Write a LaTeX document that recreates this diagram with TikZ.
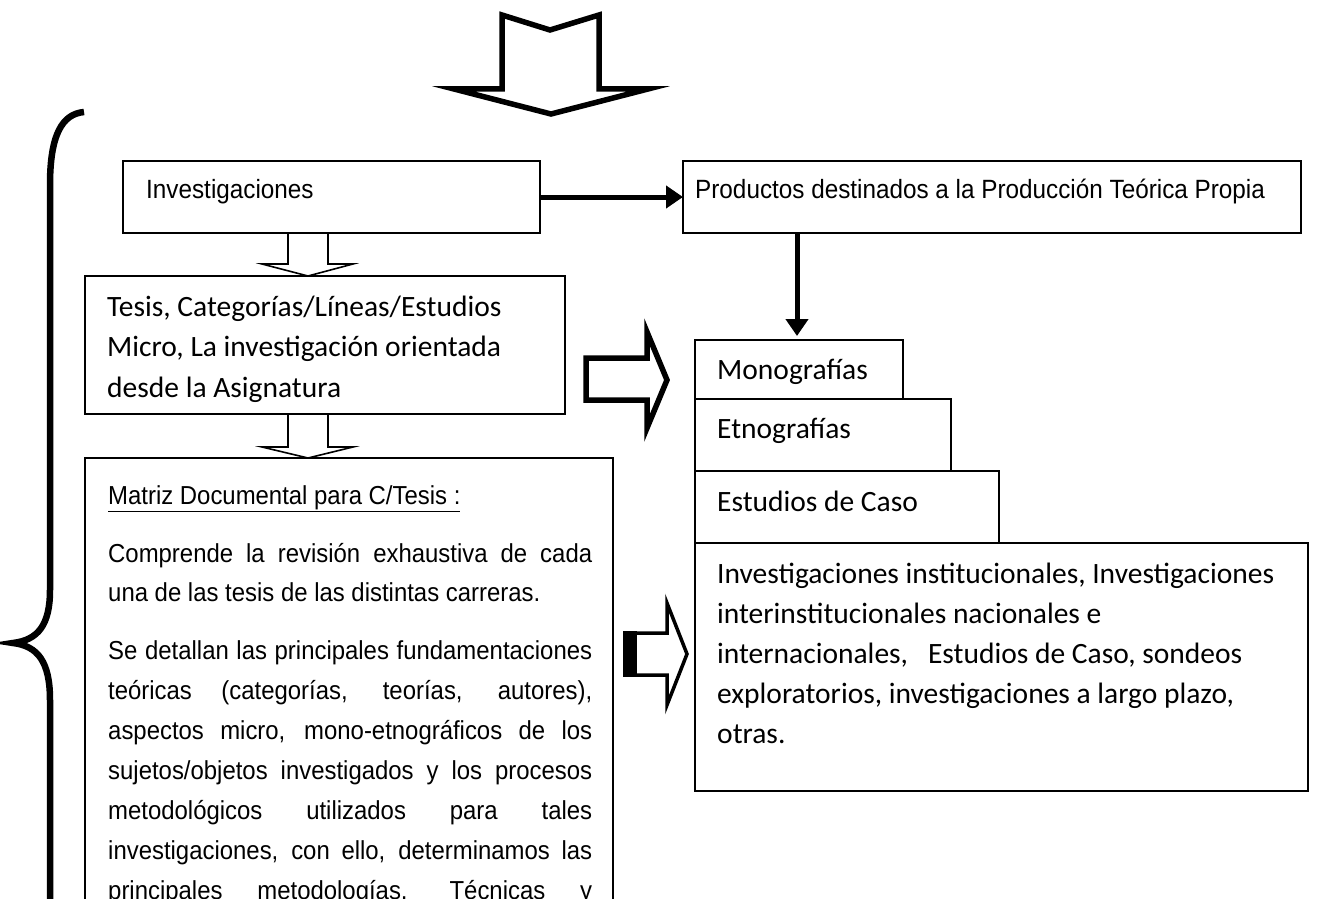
\documentclass[tikz,border=0pt]{standalone}
\usepackage{fontspec}
\newfontfamily\arialf[FakeStretch=0.92]{Liberation Sans}
\newfontfamily\calf{Carlito}
\usetikzlibrary{arrows.meta}
\begin{document}
\begin{tikzpicture}[x=1pt,y=-1pt,
  box/.style={draw, line width=1.8pt, inner sep=0pt, outer sep=0pt, anchor=north west},
  arialtxt/.style={anchor=base west, inner sep=0pt, font=\arialf\fontsize{26.4pt}{39pt}\selectfont},
  mattxt/.style={anchor=base west, inner sep=0pt, font=\arialf\fontsize{26pt}{39pt}\selectfont},
  caltxt/.style={anchor=base west, inner sep=0pt, align=left, font=\calf\fontsize{29.5pt}{40.5pt}\selectfont},
  thickarrow/.style={line width=5pt, -{Triangle[length=17pt,width=22pt]}},
  hollow/.style={draw, line width=1.6pt, line join=miter},
  bigarrow/.style={draw, line width=5.5pt, line join=miter},
]
\useasboundingbox (0,0) rectangle (1326,899);

% top big hollow arrow
\draw[bigarrow] (502,15) -- (550,30) -- (599,15) -- (599,89) -- (648,89) -- (551,114) -- (454,89) -- (502,89) -- cycle;

% brace
\draw[line width=6.5pt] (84,112) .. controls (62,114) and (50,135) .. (50,185) -- (50,590)
   .. controls (50,625) and (38,640) .. (13,643) .. controls (38,646) and (50,662) .. (50,700) -- (50,920);

% boxes
\node[box, minimum width=417pt, minimum height=72pt] (inv) at (123,161) {};
\node[arialtxt] (invt) at (146,198) {Investigaciones};

\node[box, minimum width=618pt, minimum height=72pt] (prod) at (683,161) {};
\node[arialtxt] (prodt) at (695,198) {Productos destinados a la Producción Teórica Propia};

\node[box, minimum width=480pt, minimum height=138pt] (tesis) at (85,276) {};
\node[caltxt] (tesist) at (107,397) {Tesis, Categorías/Líneas/Estudios\\Micro, La investigación orientada\\desde la Asignatura};

\node[box, minimum width=528pt, minimum height=480pt] (matriz) at (85,458) {};

\node[box, minimum width=208pt, minimum height=59pt] (mono) at (695,340) {};
\node[caltxt] (monot) at (717,379) {Monografías};
\node[box, minimum width=256pt, minimum height=72pt] (etno) at (695,399) {};
\node[caltxt] (etnot) at (717,438) {Etnografías};
\node[box, minimum width=304pt, minimum height=72pt] (caso) at (695,471) {};
\node[caltxt] (casot) at (717,511) {Estudios de Caso};
\node[box, minimum width=613pt, minimum height=248pt] (inst) at (695,543) {};
\node[caltxt, font=\calf\fontsize{29.5pt}{40pt}\selectfont] (instt) at (717,743) {Investigaciones institucionales, Investigaciones\\interinstitucionales nacionales e\\internacionales,\ \ \ Estudios de Caso, sondeos\\exploratorios, investigaciones a largo plazo,\\otras.};

% matrix text
\node[mattxt] (m1) at (108,504) {\underline{Matriz Documental para C/Tesis :}};
\node[mattxt] (m2) at (108,562) {\makebox[484pt][s]{Comprende la revisión exhaustiva de cada}};
\node[mattxt] (m3) at (108,601) {una de las tesis de las distintas carreras.};
\node[mattxt] (m4) at (108,659) {\makebox[484pt][s]{Se detallan las principales fundamentaciones}};
\node[mattxt] (m5) at (108,699) {\makebox[484pt][s]{teóricas (categorías, teorías, autores),}};
\node[mattxt] (m6) at (108,739) {\makebox[484pt][s]{aspectos micro, mono-etnográficos de los}};
\node[mattxt] (m7) at (108,779) {\makebox[484pt][s]{sujetos/objetos investigados y los procesos}};
\node[mattxt] (m8) at (108,819) {\makebox[484pt][s]{metodológicos utilizados para tales}};
\node[mattxt] (m9) at (108,859) {\makebox[484pt][s]{investigaciones, con ello, determinamos las}};
\node[mattxt] (m10) at (108,899) {\makebox[484pt][s]{principales metodologías, Técnicas y}};

% connectors
\draw[thickarrow] (inv.east) -- (prod.west);
\coordinate (pd1) at (797,233);
\coordinate (pd2) at (797,336);
\draw[thickarrow] (pd1) -- (pd2);

% small hollow arrows
\draw[hollow] (288,233) -- (288,264) -- (262,264) -- (308,276) -- (353,264) -- (328,264) -- (328,233);
\draw[hollow] (288,414) -- (288,447) -- (262,447) -- (308,458) -- (353,447) -- (328,447) -- (328,414);

% big hollow arrow 1
\draw[bigarrow] (586,358) -- (647,358) -- (647,332) -- (667,380) -- (647,428) -- (647,400) -- (586,400) -- cycle;

% big hollow arrow 2
\draw[line width=3.5pt, line join=miter] (630,633) -- (667,633) -- (667,603) -- (687,654) -- (667,705) -- (667,675) -- (630,675) -- cycle;
\fill (623,631) rectangle (637,677);
\end{tikzpicture}
\end{document}
